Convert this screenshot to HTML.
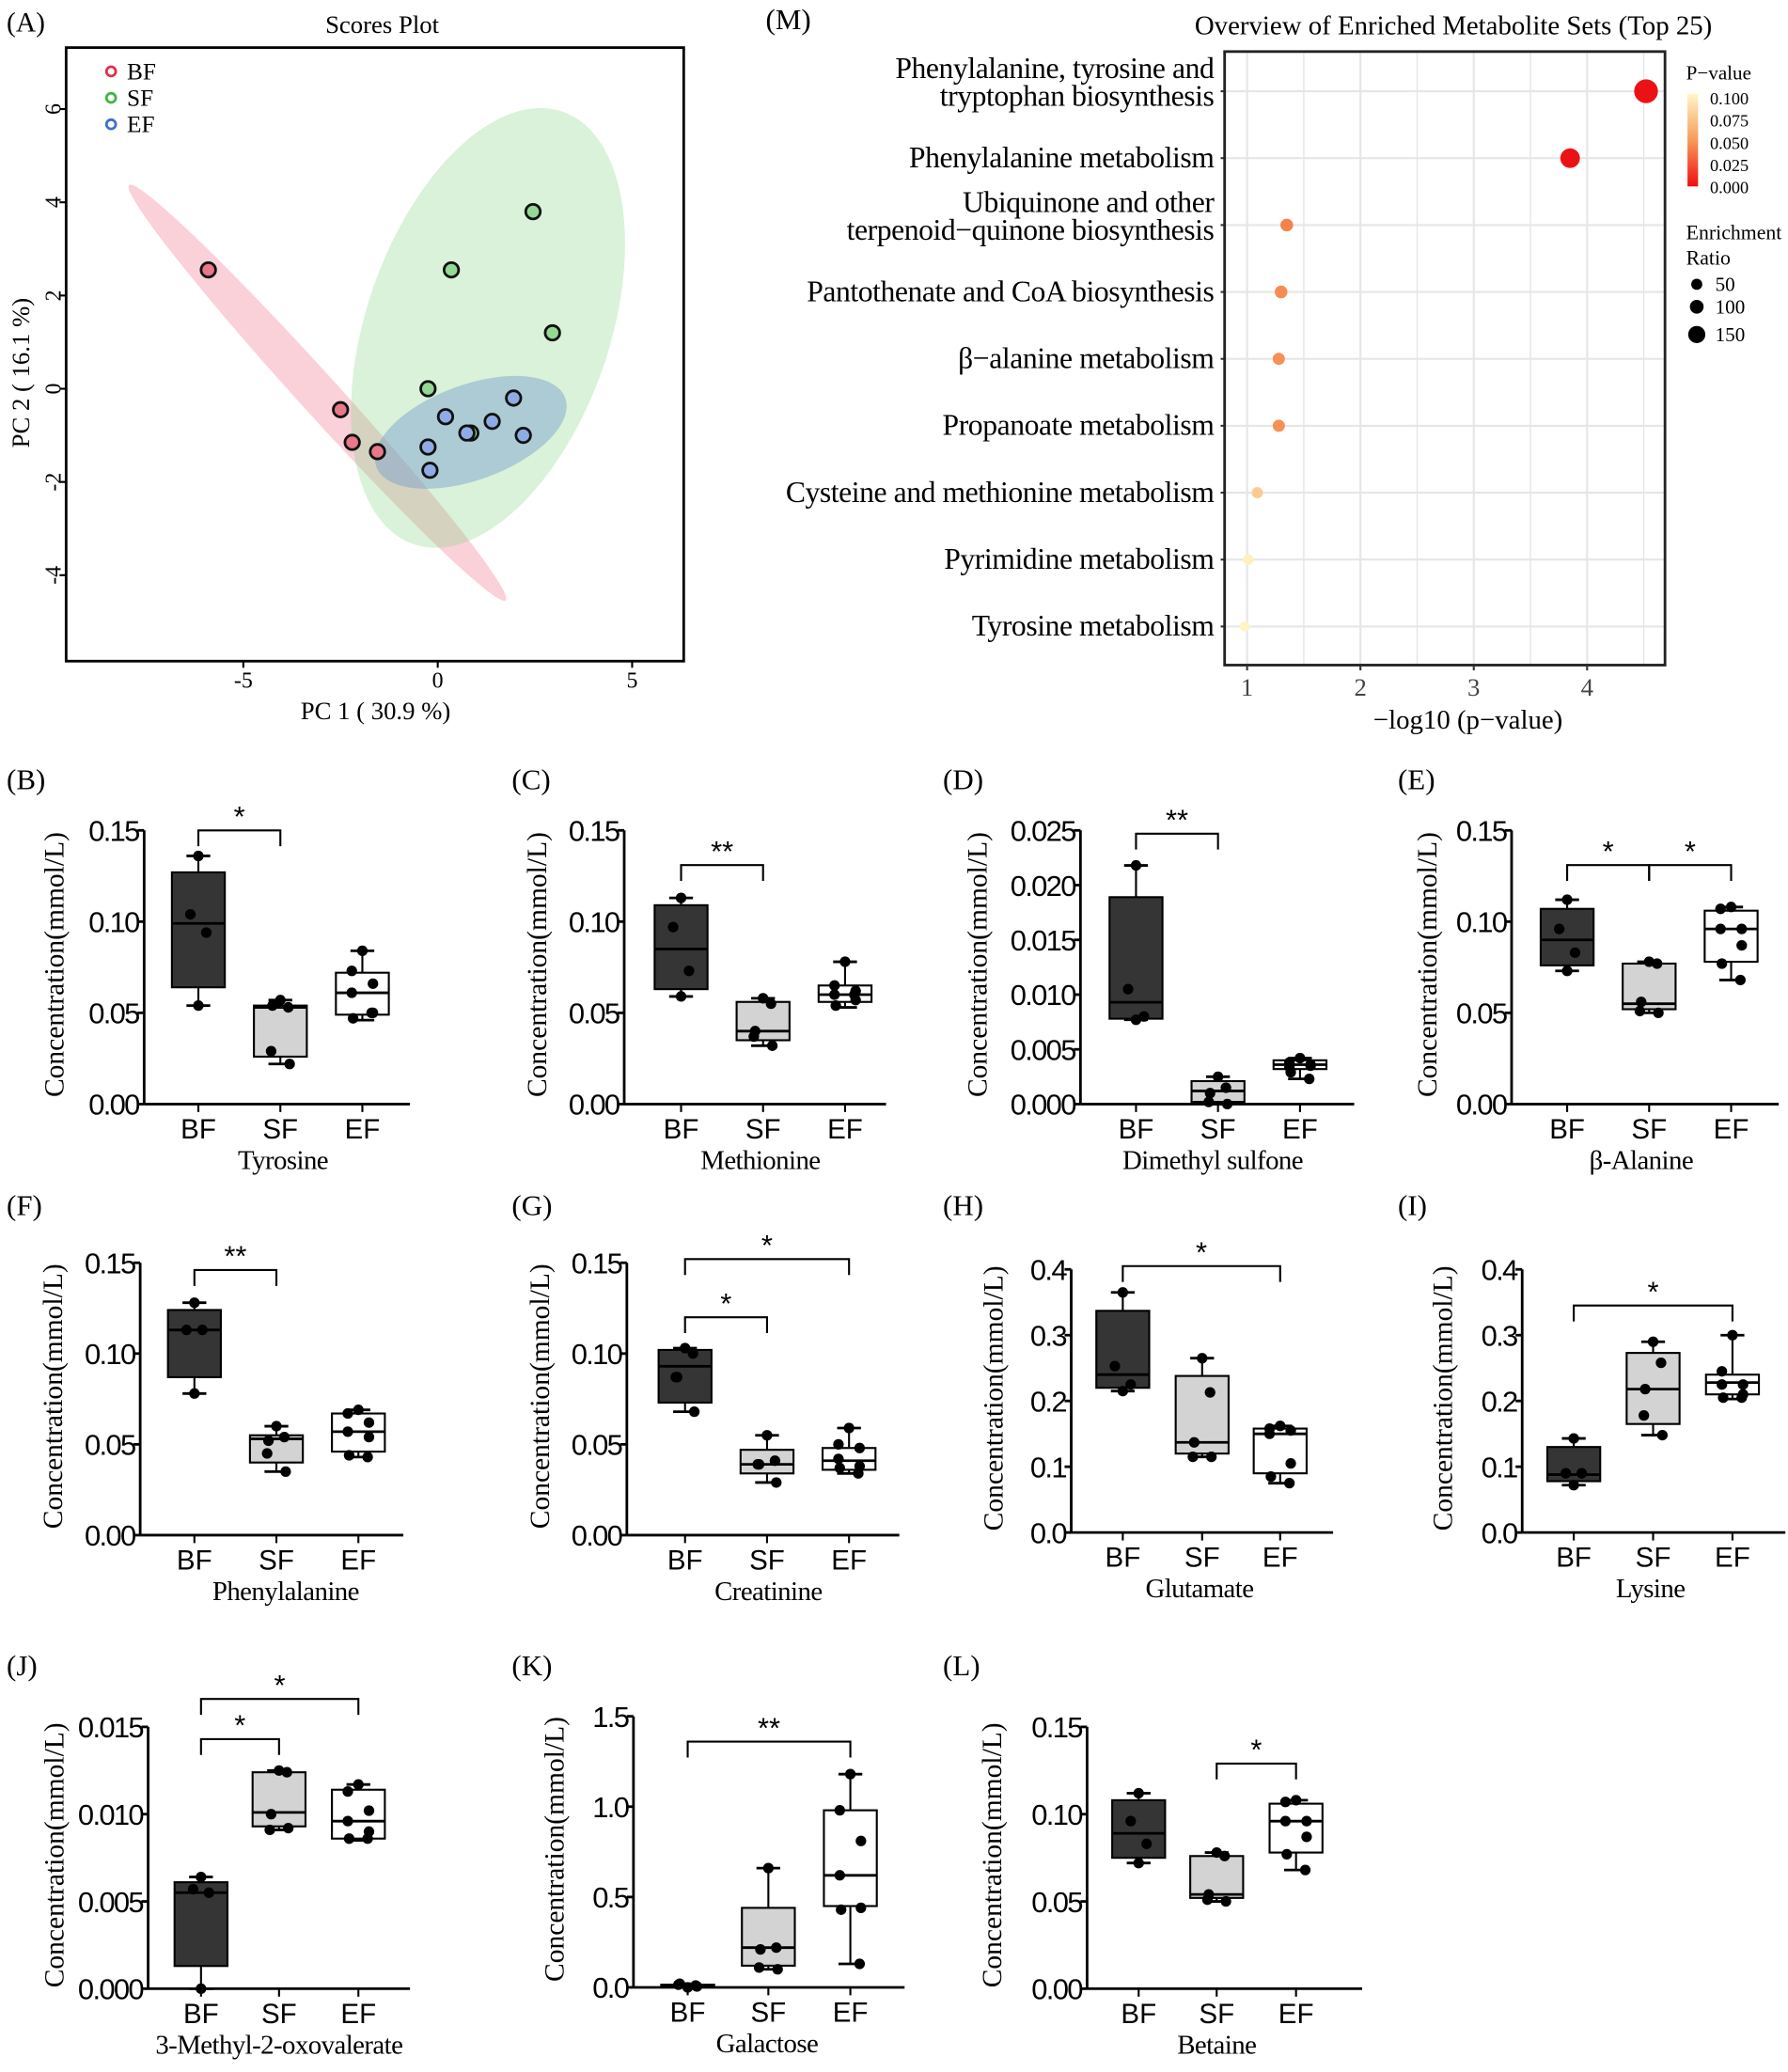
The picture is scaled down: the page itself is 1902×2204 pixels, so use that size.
<!DOCTYPE html>
<html><head><meta charset="utf-8"><style>
html,body{margin:0;padding:0;background:#fff}
svg{display:block}
text{font-family:"Liberation Serif",serif}
.sans{font-family:"Liberation Sans Narrow","Liberation Sans",sans-serif}
</style></head><body>
<svg id="fig" xmlns="http://www.w3.org/2000/svg" width="1902" height="2204" viewBox="0 0 1352 1567" preserveAspectRatio="none">
</svg>
<script>
// ---------- Scores plot data ----------
const bfX=[-5.9,-2.5,-2.2,-1.55];
const bfY=[2.55,-0.45,-1.15,-1.35];
const sfX=[2.45,0.35,2.95,-0.25,0.85];
const sfY=[3.8,2.55,1.2,0.0,-0.95];
const efX=[-0.25,0.2,0.75,1.4,1.95,2.2,-0.2];
const efY=[-1.25,-0.6,-0.95,-0.7,-0.2,-1.0,-1.75];
const pcaXTicks=[-5,0,5];
const pcaYTicks=[-4,-2,0,2,4,6];
// ---------- Enrichment data ----------
const pathways=["Phenylalanine, tyrosine and|tryptophan biosynthesis","Phenylalanine metabolism","Ubiquinone and other|terpenoid\u2212quinone biosynthesis","Pantothenate and CoA biosynthesis","\u03b2\u2212alanine metabolism","Propanoate metabolism","Cysteine and methionine metabolism","Pyrimidine metabolism","Tyrosine metabolism"];
const negLogP=[4.52,3.85,1.35,1.30,1.28,1.28,1.09,1.01,0.98];
const pValues=[0.00003,0.00014,0.045,0.05,0.052,0.052,0.081,0.098,0.105];
const enrichRatio=[150,110,45,45,40,40,30,25,22];
const enrichXTicks=[1,2,3,4];
// ---------- Box plot data ----------
const groups=["BF","SF","EF"];
const tyrosine={box:[[.054,.064,.099,.127,.136],[.022,.026,.053,.054,.057],[.046,.049,.061,.072,.084]],pts:[[.136,.104,.094,.054],[.057,.053,.054,.029,.022],[.084,.073,.066,.061,.050,.047,.050]]};
const methionine={box:[[.059,.063,.085,.109,.113],[.032,.035,.040,.056,.058],[.053,.056,.060,.065,.078]],pts:[[.113,.097,.073,.059],[.058,.055,.040,.037,.032],[.078,.065,.062,.060,.057,.054,.060]]};
const dimethylSulfone={box:[[.0077,.0078,.0093,.0189,.0218],[0,.0002,.0012,.0021,.0025],[.0023,.0032,.0036,.0040,.0042]],pts:[[.0218,.0105,.0080,.0077],[.0025,.0015,.0010,.0002,0],[.0042,.0038,.0036,.0034,.0035,.0029,.0023]]};
const betaAlanine={box:[[.073,.076,.090,.107,.112],[.050,.052,.055,.077,.078],[.068,.078,.096,.106,.108]],pts:[[.112,.096,.083,.073],[.078,.077,.056,.051,.050],[.108,.107,.096,.096,.087,.077,.068]]};
const phenylalanine={box:[[.078,.087,.113,.124,.128],[.035,.040,.053,.055,.060],[.043,.046,.057,.067,.069]],pts:[[.128,.113,.113,.078],[.060,.054,.052,.045,.035],[.069,.067,.062,.057,.054,.044,.043]]};
const creatinine={box:[[.068,.073,.093,.102,.103],[.029,.034,.039,.047,.055],[.034,.036,.041,.048,.059]],pts:[[.103,.100,.087,.087,.068],[.055,.041,.039,.039,.029],[.059,.050,.048,.042,.038,.037,.034]]};
const glutamate={box:[[.215,.220,.240,.337,.365],[.115,.120,.137,.238,.265],[.075,.090,.150,.158,.162]],pts:[[.365,.253,.225,.215],[.265,.213,.137,.115,.115],[.162,.158,.155,.150,.105,.085,.075]]};
const lysine={box:[[.072,.078,.088,.130,.143],[.148,.165,.218,.273,.290],[.203,.210,.228,.240,.300]],pts:[[.143,.090,.090,.072],[.290,.258,.218,.178,.148],[.300,.245,.225,.225,.210,.205,.205]]};
const methylOxovalerate={box:[[0,.0013,.0055,.0061,.0064],[.0091,.0093,.0101,.0124,.0125],[.0085,.0086,.0096,.0114,.0117]],pts:[[.0064,.0057,.0055,0],[.0125,.0124,.0100,.0091,.0092],[.0117,.0113,.0102,.0096,.0090,.0086,.0086]]};
const galactose={box:[[0,.002,.01,.015,.02],[.10,.12,.22,.44,.66],[.13,.45,.62,.98,1.18]],pts:[[0,.01,.02,.015,.005],[.66,.22,.21,.11,.10],[1.18,.98,.81,.62,.44,.43,.13]]};
const betaine={box:[[.072,.075,.089,.108,.112],[.050,.052,.054,.076,.078],[.068,.078,.096,.106,.108]],pts:[[.112,.096,.083,.072],[.078,.076,.054,.051,.050],[.108,.107,.096,.096,.087,.077,.068]]};
const ticks015=["0.00","0.05","0.10","0.15"];
const ticks0025=["0.000","0.005","0.010","0.015","0.020","0.025"];
const ticks04=["0.0","0.1","0.2","0.3","0.4"];
const ticks0015=["0.000","0.005","0.010","0.015"];
const ticks15=["0.0","0.5","1.0","1.5"];

const NS="http://www.w3.org/2000/svg";
const svg=document.getElementById('fig');
function el(tag,attrs,parent,txt){const e=document.createElementNS(NS,tag);for(const k in attrs)e.setAttribute(k,attrs[k]);if(txt!==undefined)e.textContent=txt;(parent||svg).appendChild(e);return e;}

// ---------- Panel A ----------
(function(){
  const g=el('g',{});
  
  
  const L=50,R=517,T=36,B=500;
  const sx=v=>331+v*29.4, sy=v=>294-v*35.25;
  let t=el('text',{x:5,y:24,'font-size':21},g,'(A)');
  t=el('text',{x:289,y:25,'font-size':19,'text-anchor':'middle'},g,'Scores Plot');
  let e=el('ellipse',{cx:240,cy:297,rx:212,ry:15,transform:'rotate(47.8 240 297)',fill:'rgba(240,120,145,0.35)'},g);
  
  e=el('ellipse',{cx:369,cy:248,rx:173,ry:92,transform:'rotate(-71 369 248)',fill:'rgba(140,215,140,0.33)'},g);
  
  e=el('ellipse',{cx:356,cy:327,rx:76,ry:36,transform:'rotate(-20 356 327)',fill:'rgba(110,150,205,0.42)'},g);
  
  const sets=[[bfX,bfY,'#e8788a','bf'],[sfX,sfY,'#93d893','sf'],[efX,efY,'#8fabe3','ef']];
  sets.forEach(s=>{s[0].forEach((x,i)=>{const c=el('circle',{cx:sx(x),cy:sy(s[1][i]),r:5.5,fill:s[2],stroke:'#111','stroke-width':2},g);
    });});
  const r=el('rect',{x:L,y:T,width:R-L,height:B-T,fill:'none',stroke:'#000','stroke-width':2},g);
  
  pcaXTicks.forEach(v=>{el('line',{x1:sx(v),x2:sx(v),y1:B,y2:B+5,stroke:'#000','stroke-width':1.5},g);
    const tt=el('text',{x:sx(v),y:B+20,'font-size':17,'text-anchor':'middle'},g,String(v));});
  pcaYTicks.forEach(v=>{el('line',{x1:L-5,x2:L,y1:sy(v),y2:sy(v),stroke:'#000','stroke-width':1.5},g);
    const tt=el('text',{x:0,y:0,'font-size':17,'text-anchor':'middle',transform:`translate(46 ${sy(v)}) rotate(-90)`},g,String(v));});
  t=el('text',{x:284,y:544,'font-size':19,'text-anchor':'middle'},g,'PC 1 ( 30.9 %)');
  t=el('text',{x:0,y:0,'font-size':19,'text-anchor':'middle',transform:'translate(22 282) rotate(-90)'},g,'PC 2 ( 16.1 %)');
  [['BF','#e0304a'],['SF','#3cb83c'],['EF','#3f6fd0']].forEach((l,i)=>{
    const c=el('circle',{cx:84,cy:54+i*20,r:3.5,fill:'none',stroke:l[1],'stroke-width':2},g);
    const tt=el('text',{x:96,y:60+i*20,'font-size':18},g,l[0]);});
})();

// ---------- Panel M ----------
(function(){
  const g=el('g',{});
  
  
  const L=926,R=1259,T=39,B=503;
  const sx=v=>943+(v-1)*85.7, sy=i=>69+i*50.6;
  let t=el('text',{x:579,y:22,'font-size':22},g,'(M)');
  t=el('text',{x:1099,y:26,'font-size':20.5,'text-anchor':'middle'},g,'Overview of Enriched Metabolite Sets (Top 25)');
  for(let v=1;v<=4.51;v+=0.5){el('line',{x1:sx(v),x2:sx(v),y1:T,y2:B,stroke:'#e6e6e6','stroke-width':v%1===0?1.5:1},g);}
  pathways.forEach((p,i)=>{el('line',{x1:L,x2:R,y1:sy(i),y2:sy(i),stroke:'#e6e6e6','stroke-width':1.5},g);});
  function col(p){const t=Math.min(1,p/0.1);
    const stops=[[0,[235,18,22]],[0.45,[245,130,75]],[0.8,[252,200,140]],[1,[255,245,195]]];
    for(let k=1;k<stops.length;k++){if(t<=stops[k][0]){const a=stops[k-1],b=stops[k],f=(t-a[0])/(b[0]-a[0]);
      return 'rgb('+a[1].map((c,j)=>Math.round(c+(b[1][j]-c)*f)).join(',')+')';}}
    return 'rgb(255,245,195)';}
  pathways.forEach((p,i)=>{
    const c=el('circle',{cx:sx(negLogP[i]),cy:sy(i),r:3+enrichRatio[i]*0.04,fill:col(pValues[i])},g);
    
    const lines=p.split('|');
    lines.forEach((ln,k)=>{const tt=el('text',{x:918,y:sy(i)+7+(k-(lines.length-1))*21+(lines.length>1?4:0),'font-size':22.5,'text-anchor':'end','letter-spacing':'-0.3'},g,ln);
      });
    el('line',{x1:L-3,x2:L,y1:sy(i),y2:sy(i),stroke:'#333','stroke-width':1.5},g);
  });
  const r=el('rect',{x:L,y:T,width:R-L,height:B-T,fill:'none',stroke:'#222','stroke-width':2},g);
  
  enrichXTicks.forEach(v=>{el('line',{x1:sx(v),x2:sx(v),y1:B,y2:B+4,stroke:'#333','stroke-width':1.5},g);
    const tt=el('text',{x:sx(v),y:B+23,'font-size':19,'text-anchor':'middle',fill:'#444'},g,String(v));});
  t=el('text',{x:1110,y:551,'font-size':20.5,'text-anchor':'middle'},g,'\u2212log10 (p\u2212value)');
  t=el('text',{x:1275,y:60,'font-size':15},g,'P\u2212value');
  const defs=el('defs',{},g);const lg=el('linearGradient',{id:'pg',x1:0,y1:0,x2:0,y2:1},defs);
  el('stop',{offset:'0','stop-color':'#fff6c8'},lg);el('stop',{offset:'0.5','stop-color':'#f79a5a'},lg);el('stop',{offset:'1','stop-color':'#ee1010'},lg);
  const cb=el('rect',{x:1276,y:71,width:8,height:70,fill:'url(#pg)'},g);
  ['0.100','0.075','0.050','0.025','0.000'].forEach((s,i)=>{const tt=el('text',{x:1293,y:79+i*16.8,'font-size':13},g,s);});
  t=el('text',{x:1275,y:181,'font-size':15.5},g,'Enrichment');
  t=el('text',{x:1275,y:200,'font-size':15.5},g,'Ratio');
  [[50,215,4.2],[100,232,5.2],[150,253,6.5]].forEach(d=>{const c=el('circle',{cx:1283,cy:d[1],r:d[2],fill:'#000'},g);
    const tt=el('text',{x:1297,y:d[1]+5,'font-size':15},g,String(d[0]));});
})();

// ---------- Box panels ----------
const jit=[[0],[-7,7],[0,0,0],[0,-6,6,0],[0,6,-6,-7,7],[0,-7,7,-8,8,0],[0,-8,8,-8,8,-7,7]];
const fills=['#353535','#d3d3d3','#ffffff'];
function boxPanel(o){
  const g=el('g',{});
  
  
  const n=o.ticks.length-1, ymax=parseFloat(o.ticks[n]);
  const sy=v=>o.y0-(v/ymax)*(o.y0-o.yt);
  let t=el('text',{x:o.lx,y:o.ly,'font-size':22},g,o.label);
  el('line',{x1:o.ax,x2:o.ax,y1:o.yt,y2:o.y0,stroke:'#000','stroke-width':2},g);
  const xa=el('line',{x1:o.ax,x2:o.xe,y1:o.y0,y2:o.y0,stroke:'#000','stroke-width':2},g);
  
  o.ticks.forEach((s,i)=>{const v=parseFloat(s);el('line',{x1:o.ax-5,x2:o.ax,y1:sy(v),y2:sy(v),stroke:'#000','stroke-width':2},g);
    const tt=el('text',{x:o.ax-4,y:sy(v)+8,'font-size':22,'text-anchor':'end',class:'sans','letter-spacing':'-1.2'},g,s);});
  o.cx.forEach((x,i)=>{el('line',{x1:x,x2:x,y1:o.y0,y2:o.y0+6,stroke:'#000','stroke-width':1.5},g);
    const tt=el('text',{x:x,y:o.y0+26,'font-size':21,'text-anchor':'middle',class:'sans'},g,groups[i]);});
  t=el('text',{x:o.tx,y:o.y0+49,'font-size':20.5,'text-anchor':'middle','letter-spacing':'-0.4'},g,o.title);
  t=el('text',{x:0,y:0,'font-size':21,'text-anchor':'middle',transform:`translate(${o.yl} ${(o.yt+o.y0)/2-2}) rotate(-90)`},g,'Concentration(mmol/L)');
  const hw=20;
  o.data.box.forEach((b,i)=>{const x=o.cx[i];
    el('line',{x1:x,x2:x,y1:sy(b[0]),y2:sy(b[1]),stroke:'#000','stroke-width':1.5},g);
    el('line',{x1:x,x2:x,y1:sy(b[3]),y2:sy(b[4]),stroke:'#000','stroke-width':1.5},g);
    el('line',{x1:x-9,x2:x+9,y1:sy(b[0]),y2:sy(b[0]),stroke:'#000','stroke-width':2},g);
    el('line',{x1:x-9,x2:x+9,y1:sy(b[4]),y2:sy(b[4]),stroke:'#000','stroke-width':2},g);
    const r=el('rect',{x:x-hw,y:sy(b[3]),width:hw*2,height:Math.max(0.5,sy(b[1])-sy(b[3])),fill:fills[i],stroke:'#000','stroke-width':1.5},g);
    
    el('line',{x1:x-hw,x2:x+hw,y1:sy(b[2]),y2:sy(b[2]),stroke:'#000','stroke-width':2},g);
  });
  o.data.pts.forEach((ps,i)=>{const jj=jit[ps.length-1]||[];ps.forEach((v,k)=>{
    const c=el('circle',{cx:o.cx[i]+(jj[k]||0),cy:sy(v),r:4,fill:'#000'},g);
    });});
  (o.sig||[]).forEach(s=>{const y=sy(s[2]);const x1=o.cx[s[0]],x2=o.cx[s[1]];
    const p=el('path',{d:`M${x1} ${y+12}V${y}H${x2}V${y+12}`,fill:'none',stroke:'#000','stroke-width':1.5},g);
    
    const tt=el('text',{x:(x1+x2)/2,y:y-3,'font-size':22,'text-anchor':'middle',class:'sans'},g,s[3]);
    });
}
const r1={y0:835,yt:628,ly:597}, r2={y0:1161,yt:955,ly:919}, r3={y0:1504,yt:1306,ly:1267};
boxPanel({id:'tyrosine',label:'(B)',lx:5,ly:r1.ly,ax:109,xe:310,cx:[150,212,274],y0:r1.y0,yt:r1.yt,ticks:ticks015,data:tyrosine,title:'Tyrosine',tx:214,yl:48,sig:[[0,1,0.15,'*']]});
boxPanel({id:'methionine',label:'(C)',lx:387,ly:r1.ly,ax:472,xe:670,cx:[515,577,639],y0:r1.y0,yt:r1.yt,ticks:ticks015,data:methionine,title:'Methionine',tx:575,yl:413,sig:[[0,1,0.131,'**']]});
boxPanel({id:'dimethyl-sulfone',label:'(D)',lx:713,ly:r1.ly,ax:817,xe:1024,cx:[859,921,983],y0:r1.y0,yt:r1.yt,ticks:ticks0025,data:dimethylSulfone,title:'Dimethyl sulfone',tx:917,yl:746,sig:[[0,1,0.0247,'**']]});
boxPanel({id:'beta-alanine',label:'(E)',lx:1057,ly:r1.ly,ax:1143,xe:1345,cx:[1185,1247,1309],y0:r1.y0,yt:r1.yt,ticks:ticks015,data:betaAlanine,title:'\u03b2-Alanine',tx:1241,yl:1086,sig:[[0,1,0.131,'*'],[1,2,0.131,'*']]});
boxPanel({id:'phenylalanine',label:'(F)',lx:5,ly:r2.ly,ax:106,xe:305,cx:[147,209,271],y0:r2.y0,yt:r2.yt,ticks:ticks015,data:phenylalanine,title:'Phenylalanine',tx:216,yl:47,sig:[[0,1,0.146,'**']]});
boxPanel({id:'creatinine',label:'(G)',lx:387,ly:r2.ly,ax:474,xe:680,cx:[518,580,642],y0:r2.y0,yt:r2.yt,ticks:ticks015,data:creatinine,title:'Creatinine',tx:581,yl:415,sig:[[0,1,0.120,'*'],[0,2,0.152,'*']]});
boxPanel({id:'glutamate',label:'(H)',lx:713,ly:r2.ly,ax:810,xe:1008,cx:[849,909,968],y0:1159,yt:960,ticks:ticks04,data:glutamate,title:'Glutamate',tx:907,yl:758,sig:[[0,2,0.405,'*']]});
boxPanel({id:'lysine',label:'(I)',lx:1057,ly:r2.ly,ax:1151,xe:1350,cx:[1190,1250,1310],y0:1159,yt:960,ticks:ticks04,data:lysine,title:'Lysine',tx:1248,yl:1098,sig:[[0,2,0.345,'*']]});
boxPanel({id:'methyl-oxovalerate',label:'(J)',lx:5,ly:r3.ly,ax:112,xe:310,cx:[152,211,271],y0:r3.y0,yt:r3.yt,ticks:ticks0015,data:methylOxovalerate,title:'3-Methyl-2-oxovalerate',tx:211,yl:48,sig:[[0,1,0.0143,'*'],[0,2,0.0166,'*']]});
boxPanel({id:'galactose',label:'(K)',lx:387,ly:r3.ly,ax:479,xe:684,cx:[520,581,643],y0:1503,yt:1298,ticks:ticks15,data:galactose,title:'Galactose',tx:580,yl:426,sig:[[0,2,1.36,'**']]});
boxPanel({id:'betaine',label:'(L)',lx:713,ly:r3.ly,ax:822,xe:1030,cx:[861,920,980],y0:r3.y0,yt:r3.yt,ticks:ticks015,data:betaine,title:'Betaine',tx:920,yl:757,sig:[[1,2,0.129,'*']]});
</script>
</body></html>
